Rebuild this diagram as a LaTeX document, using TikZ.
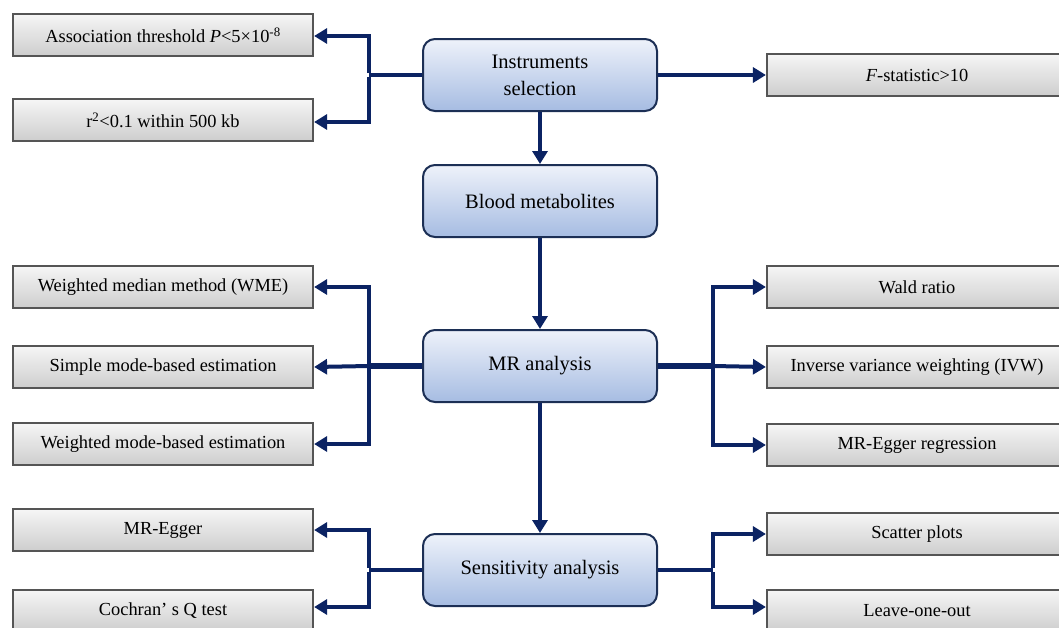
\documentclass[tikz,border=0pt]{standalone}
\usepackage{fontspec}
\setmainfont{Liberation Serif}
\usetikzlibrary{arrows.meta}
\definecolor{navy}{HTML}{0B2363}
\definecolor{mainborder}{HTML}{1C2F55}
\definecolor{maintop}{HTML}{EEF2FA}
\definecolor{mainbot}{HTML}{A6BCE2}
\definecolor{greytop}{HTML}{F6F6F6}
\definecolor{greybot}{HTML}{CDCDCD}
\definecolor{greyborder}{HTML}{555555}
\tikzset{
  mainbox/.style={draw=mainborder, line width=2pt, rounded corners=12pt,
    top color=maintop, bottom color=mainbot, minimum width=234pt, minimum height=72pt,
    align=center, font=\fontsize{20.5pt}{27pt}\selectfont, inner sep=0pt},
  greybox/.style={draw=greyborder, line width=2.2pt, top color=greytop, bottom color=greybot,
    minimum width=300pt, minimum height=42pt, font=\fontsize{18.4pt}{22pt}\selectfont, inner sep=0pt},
  conn/.style={draw=navy, line width=4pt},
  connthick/.style={draw=navy, line width=5.5pt},
  arr/.style={draw=navy, line width=4pt, -{Triangle[length=13pt,width=15pt]}},
}
\begin{document}
\begin{tikzpicture}[x=1pt,y=-1pt]
\useasboundingbox (0,0) rectangle (1059,627);
\clip (0,0) rectangle (1059,627);
% main boxes
\node[mainbox] (inst) at (540,75) {Instruments\\selection};
\node[mainbox] (blood) at (540,201) {Blood metabolites};
\node[mainbox] (mr) at (540,366) {MR analysis};
\node[mainbox] (sens) at (540,570) {Sensitivity analysis};
% left boxes
\node[greybox] (assoc) at (163,35) {Association threshold \textit{P}<5×10\textsuperscript{-8}};
\node[greybox] (r2) at (163,120) {r\textsuperscript{2}<0.1 within 500 kb};
\node[greybox] (wme) at (163,287) {Weighted median method (WME)};
\node[greybox] (simple) at (163,367) {Simple mode-based estimation};
\node[greybox] (wmode) at (163,444) {Weighted mode-based estimation};
\node[greybox] (egger) at (163,530) {MR-Egger};
\node[greybox] (coch) at (163,611) {Cochran’ s Q test};
% right boxes
\node[greybox] (fstat) at (917,75) {\textit{F}-statistic>10};
\node[greybox] (wald) at (917,287) {Wald ratio};
\node[greybox] (ivw) at (917,367) {Inverse variance weighting (IVW)};
\node[greybox] (eggreg) at (917,445) {MR-Egger regression};
\node[greybox] (scatter) at (917,534) {Scatter plots};
\node[greybox] (leave) at (917,611) {Leave-one-out};
% junctions
\coordinate (jl1) at (369,75);
\coordinate (jl2) at (369,366);
\coordinate (jr2) at (713,366);
\coordinate (jl3) at (369,570);
\coordinate (jr3) at (713,570);
% connectors
\draw[conn] (inst.west) -- (jl1);
\draw[arr] ([yshift=2pt]jl1) |- ([yshift=-1pt]assoc.east);
\draw[arr] ([yshift=-2pt]jl1) |- ([yshift=-2pt]r2.east);
\draw[arr] (inst.east) -- (fstat.west);
\draw[arr] (inst.south) -- (blood.north);
\draw[arr] (blood.south) -- (mr.north);
\draw[arr] (mr.south) -- (sens.north);
\draw[connthick] (mr.west) -- (jl2);
\draw[arr] ([yshift=-2pt]jl2) |- (wme.east);
\draw[arr] (jl2) -- (simple.east);
\draw[arr] ([yshift=2pt]jl2) |- (wmode.east);
\draw[connthick] (mr.east) -- (jr2);
\draw[arr] ([yshift=-2pt]jr2) |- (wald.west);
\draw[arr] (jr2) -- (ivw.west);
\draw[arr] ([yshift=2pt]jr2) |- (eggreg.west);
\draw[conn] (sens.west) -- (jl3);
\draw[arr] ([yshift=2pt]jl3) |- (egger.east);
\draw[arr] ([yshift=-2pt]jl3) |- ([yshift=4pt]coch.east);
\draw[conn] (sens.east) -- (jr3);
\draw[arr] ([yshift=2pt]jr3) |- (scatter.west);
\draw[arr] ([yshift=-2pt]jr3) |- ([yshift=4pt]leave.west);
\end{tikzpicture}
\end{document}
